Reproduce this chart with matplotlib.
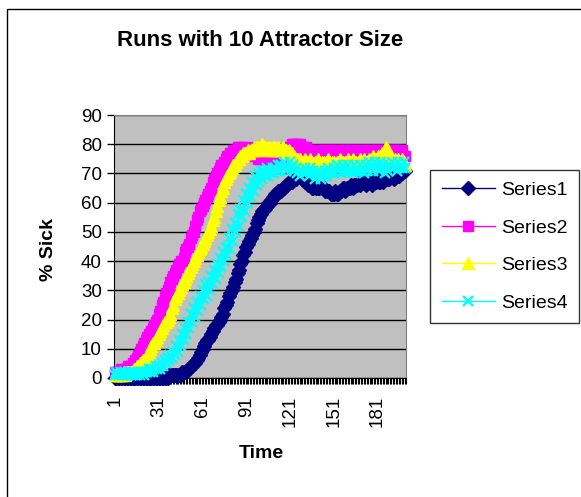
import matplotlib
matplotlib.use("Agg")
import matplotlib.pyplot as plt
from matplotlib.patches import Rectangle
import numpy as np

plt.rcParams["font.family"] = ["Liberation Sans", "DejaVu Sans"]

# values, one per time step (1..200)
time_steps = list(range(1, 201))
tick_steps = [1, 31, 61, 91, 121, 151, 181]
tick_labels = ["1", "31", "61", "91", "121", "151", "181"]

series1 = [0, 0, 0, 0, 0, 0, 0, 0, 0, 0,
           0, 0, 0, 0, 0, 0, 0, 0, 0, 0,
           0, 0, 0, 0, 0, 0, 0, 0, 0, 0,
           0, 0, 0, 0, 0, 0, 0, 1, 1, 1,
           1, 1, 1, 1, 1, 1, 2, 2, 2, 2,
           3, 3, 4, 4, 5, 5, 6, 7, 8, 9,
           10, 11, 12, 13, 13, 14, 15, 16, 17, 18,
           18, 19, 20, 21, 22, 24, 25, 26, 28, 29,
           30, 31, 33, 34, 36, 37, 39, 40, 42, 43,
           45, 46, 47, 48, 49, 50, 51, 53, 54, 55,
           56, 57, 58, 58, 59, 60, 60, 61, 62, 62,
           63, 63, 64, 64, 64, 65, 65, 66, 66, 67,
           67, 67, 68, 68, 68, 69, 69, 69, 68, 68,
           67, 67, 66, 66, 66, 65, 65, 66, 65, 65,
           65, 66, 65, 65, 64, 64, 64, 64, 63, 63,
           63, 64, 63, 63, 64, 64, 65, 65, 64, 65,
           65, 65, 66, 65, 66, 66, 66, 67, 66, 67,
           67, 67, 66, 67, 67, 67, 66, 67, 67, 67,
           68, 67, 67, 68, 67, 68, 68, 68, 68, 69,
           69, 68, 69, 69, 70, 69, 70, 70, 71, 71]

series2 = [2, 2, 2, 2, 3, 2, 3, 3, 3, 4,
           4, 4, 5, 5, 6, 7, 8, 9, 10, 11,
           12, 13, 14, 15, 15, 16, 17, 18, 19, 20,
           22, 23, 25, 26, 28, 29, 30, 31, 33, 34,
           35, 36, 37, 38, 39, 40, 40, 41, 43, 44,
           45, 46, 48, 49, 50, 52, 54, 55, 57, 58,
           59, 60, 61, 62, 63, 64, 65, 67, 68, 69,
           70, 71, 72, 73, 73, 74, 75, 76, 76, 77,
           77, 78, 78, 78, 79, 78, 79, 78, 79, 78,
           78, 78, 79, 78, 77, 77, 76, 76, 75, 76,
           75, 76, 75, 75, 76, 75, 75, 76, 75, 75,
           76, 75, 75, 76, 75, 76, 76, 77, 78, 79,
           79, 80, 80, 79, 80, 80, 79, 80, 79, 79,
           78, 79, 78, 78, 77, 78, 77, 78, 78, 77,
           78, 78, 77, 78, 78, 78, 77, 78, 78, 78,
           78, 77, 78, 78, 78, 77, 78, 78, 78, 78,
           77, 78, 78, 78, 78, 77, 78, 78, 77, 78,
           78, 78, 78, 77, 78, 78, 78, 77, 78, 78,
           78, 77, 78, 78, 77, 78, 78, 78, 78, 77,
           78, 78, 78, 77, 78, 78, 77, 78, 76, 76]

series3 = [1, 1, 1, 1, 1, 1, 2, 1, 2, 2,
           2, 2, 2, 3, 3, 4, 4, 5, 5, 6,
           6, 7, 8, 9, 10, 11, 12, 12, 13, 14,
           15, 16, 17, 18, 19, 19, 20, 21, 22, 24,
           25, 27, 28, 29, 30, 31, 32, 33, 34, 35,
           36, 37, 38, 39, 40, 41, 42, 43, 44, 45,
           46, 47, 48, 49, 50, 51, 52, 54, 55, 57,
           59, 61, 62, 64, 65, 67, 68, 69, 70, 71,
           72, 73, 73, 74, 75, 75, 76, 76, 77, 77,
           77, 78, 77, 78, 78, 79, 78, 79, 79, 78,
           79, 80, 79, 79, 78, 79, 79, 78, 79, 78,
           79, 78, 79, 78, 78, 79, 78, 78, 77, 78,
           77, 77, 76, 76, 75, 75, 74, 75, 74, 74,
           75, 74, 73, 74, 75, 74, 73, 74, 74, 75,
           74, 73, 74, 74, 73, 74, 75, 74, 73, 74,
           74, 73, 74, 74, 75, 74, 74, 73, 74, 74,
           75, 74, 74, 75, 74, 74, 73, 74, 75, 74,
           74, 75, 74, 74, 75, 74, 75, 76, 75, 75,
           76, 75, 76, 77, 77, 78, 79, 78, 77, 76,
           75, 74, 75, 74, 75, 74, 74, 75, 74, 73]

series4 = [1, 2, 1, 1, 2, 1, 1, 2, 1, 1,
           2, 1, 1, 2, 1, 1, 2, 1, 2, 2,
           1, 2, 2, 3, 2, 3, 2, 3, 4, 3,
           4, 3, 5, 4, 6, 5, 7, 6, 8, 7,
           9, 8, 11, 9, 13, 11, 15, 13, 17, 15,
           19, 17, 22, 19, 24, 21, 26, 23, 28, 25,
           30, 27, 32, 28, 33, 30, 35, 32, 37, 34,
           39, 36, 41, 38, 43, 40, 45, 42, 48, 44,
           51, 47, 53, 50, 56, 52, 58, 55, 61, 57,
           63, 60, 65, 62, 67, 64, 69, 66, 70, 67,
           71, 68, 71, 69, 72, 69, 71, 70, 72, 70,
           72, 71, 73, 71, 73, 72, 74, 71, 73, 72,
           74, 72, 73, 71, 72, 70, 71, 69, 71, 70,
           72, 70, 71, 69, 72, 70, 71, 68, 70, 69,
           71, 68, 70, 69, 71, 69, 72, 70, 71, 70,
           72, 70, 73, 71, 72, 70, 73, 71, 72, 71,
           73, 71, 72, 70, 73, 71, 72, 71, 73, 71,
           72, 70, 73, 71, 74, 72, 73, 71, 74, 72,
           73, 71, 74, 72, 73, 70, 72, 71, 73, 72,
           74, 72, 73, 71, 74, 72, 73, 72, 74, 72]

series_names = ["Series1", "Series2", "Series3", "Series4"]

W, H = 581, 497
fig = plt.figure(figsize=(W / 100, H / 100), dpi=100)

# chart area border (Excel style)
fig.patches.append(Rectangle((7 / W, -0.1), 1.2, 1 - 9 / H + 0.1, transform=fig.transFigure,
                             fill=False, edgecolor="black", linewidth=1))

left, right, top, bottom = 114.3, 406.0, 115.0, 378.0
ax = fig.add_axes([left / W, 1 - bottom / H, (right - left) / W, (bottom - top) / H])
ax.set_facecolor("#C0C0C0")

styles = [
    dict(color="#000080", marker="D", ms=7),
    dict(color="#FF00FF", marker="s", ms=6.5),
    dict(color="#FFFF00", marker="^", ms=8),
    dict(color="#00FFFF", marker="x", ms=7.5, mew=1.7),
]
for vals, name, st in zip([series1, series2, series3, series4], series_names, styles):
    ax.plot(time_steps, vals, lw=1, label=name, clip_on=False, zorder=3, **st)

ax.set_xlim(0.5, 200.5)
ax.set_ylim(0, 90)
ax.set_yticks(range(0, 91, 10))
ax.yaxis.grid(True, color="black", linewidth=1)
ax.set_axisbelow(True)

ax.set_xticks(tick_steps)
ax.set_xticklabels(tick_labels, rotation=90, va="top", ha="center")
ax.set_xticks(np.arange(0.5, 201, 1), minor=True)
ax.tick_params(axis="x", which="major", length=0, pad=13, labelsize=13.5)
ax.tick_params(axis="x", which="minor", length=4, width=0.8, color="black", direction="out")
ax.tick_params(axis="y", length=5, width=1, pad=4, labelsize=13.5, direction="out")

for side in ["top", "right"]:
    ax.spines[side].set_color("#808080")
for side in ["left", "bottom"]:
    ax.spines[side].set_color("black")

fig.text(260 / W, 1 - 40 / H, "Runs with 10 Attractor Size", ha="center", va="center",
         fontsize=16, fontweight="bold")
fig.text(261 / W, 1 - 454 / H, "Time", ha="center", va="center", fontsize=14, fontweight="bold")
fig.text(48 / W, 1 - 250 / H, "% Sick", ha="center", va="center", rotation=90,
         fontsize=14, fontweight="bold")

leg = fig.legend(loc="upper left", bbox_to_anchor=(430 / W, 1 - 170 / H), fontsize=14,
                 frameon=True, fancybox=False, edgecolor="black", handlelength=2.75,
                 labelspacing=1.02, borderpad=0.6, handletextpad=0.3, borderaxespad=0)
leg.get_frame().set_linewidth(1)

fig.savefig("out.png", dpi=100)
